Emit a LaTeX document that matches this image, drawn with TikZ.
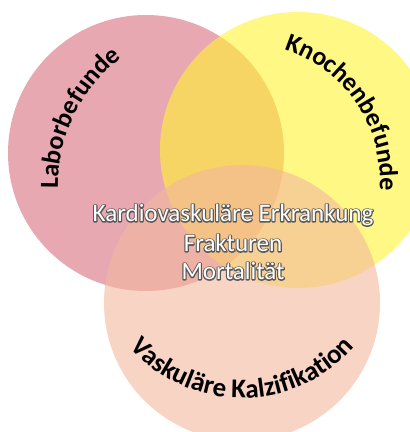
\documentclass[tikz,border=0pt]{standalone}
\usepackage{fontspec}
\setmainfont{Carlito}
\usetikzlibrary{decorations.text}
\definecolor{laborpink}{RGB}{217,110,127}
\definecolor{knochengelb}{RGB}{255,243,50}
\definecolor{kalkpeach}{RGB}{243,183,157}
\newcommand\umriss[1]{\special{pdf:literal direct 0.35 G 1 Tr 1 j 2.2 w}#1\special{pdf:literal direct 0 Tr}}

\begin{document}
\begin{tikzpicture}[x=1pt,y=1pt,
	kreis/.style={fill=#1,fill opacity=0.6},
	bogen/.style 2 args={decorate,decoration={text along path,text align=center,
		text={|\fontsize{#1}{30}\selectfont\bfseries|#2}}},
	mitte/.style={text=white,font=\fontsize{25}{29}\selectfont,inner sep=0pt}]
	\useasboundingbox (0,0) rectangle (410,432);
	\fill[kreis=laborpink] (146,279) circle (138);
	\fill[kreis=knochengelb] (298,282) circle (138);
	\fill[kreis=kalkpeach] (242,129) circle (138);
	\path[bogen={26}{Laborbefunde}] (218,246) ++(196:160) arc[start angle=196,end angle=112,radius=160];
	\path[bogen={26}{Knochenbefunde}] (243,252) ++(86:137) arc[start angle=86,end angle=-18,radius=137];
	\path[bogen={27}{Vaskuläre Kalzifikation}] (242,184) ++(210:150) arc[start angle=210,end angle=330,radius=150];
	\node[mitte] (kardioRand) at (233,217) {\umriss{Kardiovaskuläre Erkrankung}};
	\node[mitte] (kardio) at (kardioRand) {Kardiovaskuläre Erkrankung};
	\node[mitte] (frakturRand) at (233,189) {\umriss{Frakturen}};
	\node[mitte] (fraktur) at (frakturRand) {Frakturen};
	\node[mitte] (mortalRand) at (233,161) {\umriss{Mortalität}};
	\node[mitte] (mortal) at (mortalRand) {Mortalität};
\end{tikzpicture}
\end{document}
